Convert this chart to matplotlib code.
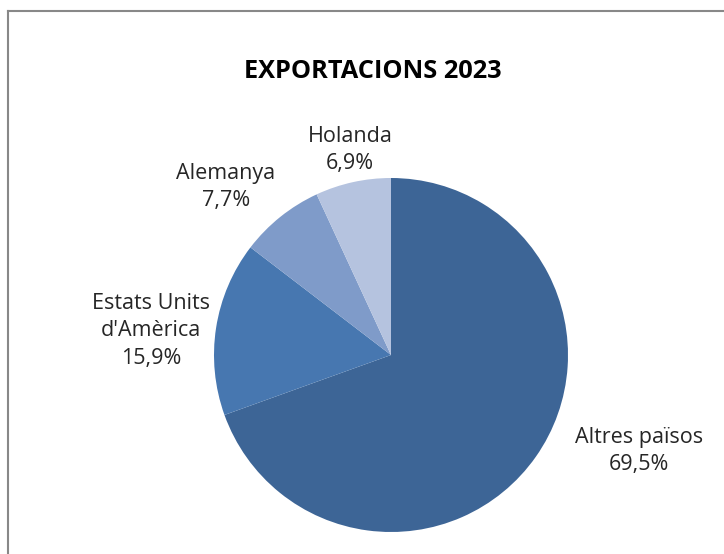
import matplotlib
matplotlib.use('Agg')
import matplotlib.pyplot as plt
from matplotlib.lines import Line2D

# data
labels = ['Altres països', "Estats Units\nd'Amèrica", 'Alemanya', 'Holanda']
shares = [69.5, 15.9, 7.7, 6.9]
colors = ['#3d6596', '#4777b0', '#7f9bc9', '#b5c3df']
title = 'EXPORTACIONS 2023'

# label positions in pixels (x, y from top)
labelPos = [(639, 451), (151, 331), (226, 187), (350, 150)]

W, H = 724, 554
plt.rcParams['font.family'] = ['Open Sans', 'DejaVu Sans']

fig = plt.figure(figsize=(W / 100, H / 100), dpi=100)
fig.set_facecolor('white')

# pie centred at (391,355) px, radius 177 px
cx, cy, r = 391, 355, 177
ax = fig.add_axes([(cx - r) / W, (H - cy - r) / H, 2 * r / W, 2 * r / H])
ax.pie(shares, colors=colors, startangle=90, counterclock=False,
       wedgeprops={'linewidth': 0})
ax.set_xlim(-1, 1)
ax.set_ylim(-1, 1)
ax.axis('off')

fig.text(373 / W, 1 - 71 / H, title, ha='center', va='center',
         fontsize=18.3, fontweight='bold', color='black')

for lab, val, (px, py) in zip(labels, shares, labelPos):
    txt = lab + '\n' + ('%.1f%%' % val).replace('.', ',')
    fig.text(px / W, 1 - py / H, txt, ha='center', va='center',
             fontsize=15.5, color='#262626', linespacing=1.38)

# chart frame (only left and top edges visible)
fig.add_artist(Line2D([7.5 / W, 7.5 / W], [0, 1 - 10.5 / H], color='#888888', lw=1.5))
fig.add_artist(Line2D([7.5 / W, 1], [1 - 10.5 / H, 1 - 10.5 / H], color='#888888', lw=1.5))

fig.savefig('out.png', dpi=100)
